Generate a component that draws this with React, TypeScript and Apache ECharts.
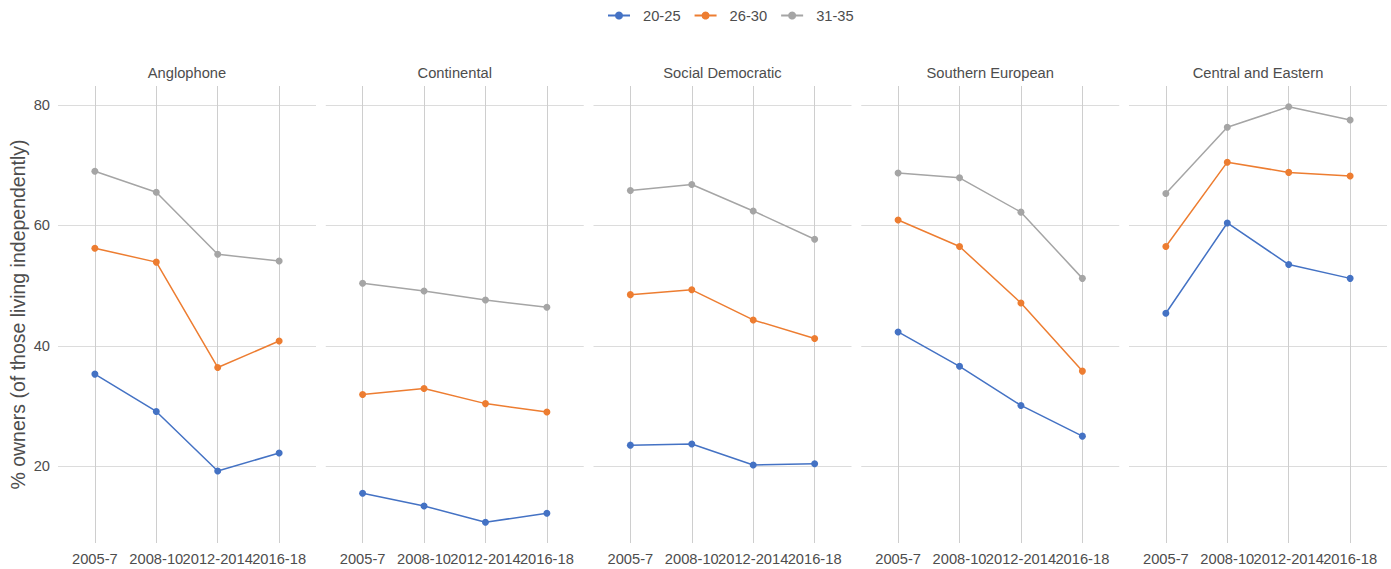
import React, { useEffect, useRef } from "react";
import * as echarts from "echarts";

const CATEGORIES = ["2005-7", "2008-10", "2012-2014", "2016-18"];
const PANELS = ["Anglophone", "Continental", "Social Democratic", "Southern European", "Central and Eastern"];
const SERIES_NAMES = ["20-25", "26-30", "31-35"];
const Y_TITLE = "% owners (of those living independently)";

const ANGLOPHONE_20_25 = [35.3, 29.1, 19.2, 22.2];
const ANGLOPHONE_26_30 = [56.2, 53.9, 36.4, 40.8];
const ANGLOPHONE_31_35 = [69.0, 65.5, 55.2, 54.1];

const CONTINENTAL_20_25 = [15.5, 13.4, 10.7, 12.2];
const CONTINENTAL_26_30 = [31.9, 32.9, 30.4, 29.0];
const CONTINENTAL_31_35 = [50.4, 49.1, 47.6, 46.4];

const SOCIALDEM_20_25 = [23.5, 23.7, 20.2, 20.4];
const SOCIALDEM_26_30 = [48.5, 49.3, 44.3, 41.2];
const SOCIALDEM_31_35 = [65.8, 66.8, 62.4, 57.7];

const SOUTHERN_20_25 = [42.3, 36.6, 30.1, 25.0];
const SOUTHERN_26_30 = [60.9, 56.5, 47.1, 35.8];
const SOUTHERN_31_35 = [68.7, 67.9, 62.2, 51.2];

const CEE_20_25 = [45.4, 60.4, 53.5, 51.2];
const CEE_26_30 = [56.5, 70.5, 68.8, 68.2];
const CEE_31_35 = [65.3, 76.3, 79.7, 77.5];

const PANEL_DATA = [
  [ANGLOPHONE_20_25, ANGLOPHONE_26_30, ANGLOPHONE_31_35],
  [CONTINENTAL_20_25, CONTINENTAL_26_30, CONTINENTAL_31_35],
  [SOCIALDEM_20_25, SOCIALDEM_26_30, SOCIALDEM_31_35],
  [SOUTHERN_20_25, SOUTHERN_26_30, SOUTHERN_31_35],
  [CEE_20_25, CEE_26_30, CEE_31_35],
];

const COLORS = ["#4472C4", "#ED7D31", "#A5A5A5"];
const FONT = "'Liberation Sans', Arial, sans-serif";
const TEXT = "#4d4d4d";
const FS = 14.7;
const Y_MIN = 7.25;
const Y_MAX = 83.15;

export default function App() {
  const ref = useRef<HTMLDivElement>(null);

  useEffect(() => {
    if (!ref.current) return;
    const chart = echarts.init(ref.current, undefined, { renderer: "svg" });

    const PANEL_LEFT0 = 58;
    const PANEL_STEP = 267.75;
    const PANEL_W = 258;
    const TOP = 86;
    const HEIGHT = 457;
    const inset = (0.6 * PANEL_W) / 4.2;

    const grid: any[] = [];
    const xAxis: any[] = [];
    const yAxis: any[] = [];
    const series: any[] = [];
    const graphic: any[] = [];

    PANELS.forEach((p, i) => {
      const left = PANEL_LEFT0 + i * PANEL_STEP;
      grid.push({ left, top: TOP, width: PANEL_W, height: HEIGHT, containLabel: false });
      grid.push({ left: left + inset, top: TOP, width: PANEL_W - 2 * inset, height: HEIGHT, containLabel: false });

      xAxis.push({ type: "value", gridIndex: 2 * i, min: 0, max: 1, show: false });
      xAxis.push({
        type: "category",
        gridIndex: 2 * i + 1,
        data: CATEGORIES,
        boundaryGap: false,
        axisLine: { show: false },
        axisTick: { show: false },
        axisLabel: { interval: 0, fontSize: FS, color: TEXT, fontFamily: FONT, margin: 8 },
        splitLine: { show: true, interval: 0, lineStyle: { color: "#cecece", width: 1 } },
      });

      yAxis.push({
        type: "value",
        gridIndex: 2 * i,
        min: Y_MIN,
        max: Y_MAX,
        splitNumber: 4,
        axisLine: { show: false },
        axisTick: { show: false },
        axisLabel: {
          show: i === 0,
          showMinLabel: false,
          showMaxLabel: false,
          fontSize: FS,
          color: TEXT,
          fontFamily: FONT,
          margin: 8,
          formatter: (v: number) => (Math.abs(v % 20) < 1e-6 ? String(v) : ""),
        },
        splitLine: { show: true, showMinLine: false, showMaxLine: false, lineStyle: { color: "#dcdcdc", width: 1 } },
        name: i === 0 ? Y_TITLE : "",
        nameLocation: "middle",
        nameGap: 30,
        nameTextStyle: { fontSize: 19.5, color: TEXT, fontFamily: FONT },
      });
      yAxis.push({ type: "value", gridIndex: 2 * i + 1, min: Y_MIN, max: Y_MAX, show: false, splitLine: { show: false } });

      PANEL_DATA[i].forEach((vals, k) => {
        series.push({
          type: "line",
          name: SERIES_NAMES[k],
          xAxisIndex: 2 * i + 1,
          yAxisIndex: 2 * i + 1,
          data: vals,
          symbol: "circle",
          symbolSize: 7,
          color: COLORS[k],
          lineStyle: { width: 1.5, color: COLORS[k] },
          itemStyle: { color: COLORS[k] },
          z: 5 - k,
        });
      });

      graphic.push({
        type: "text",
        x: left + PANEL_W / 2,
        y: 73,
        style: {
          text: p,
          fontSize: FS,
          fill: TEXT,
          fontFamily: FONT,
          textAlign: "center",
          textVerticalAlign: "middle",
        },
      });
    });

    chart.setOption({
      animation: false,
      backgroundColor: "#ffffff",
      textStyle: { fontFamily: FONT },
      legend: {
        data: SERIES_NAMES,
        left: 607,
        top: 8,
        padding: 0,
        itemWidth: 22,
        itemHeight: 10,
        itemGap: 13,
        textStyle: { fontSize: FS, color: TEXT, fontFamily: FONT, padding: [0, 0, 0, 8] },
      },
      grid,
      xAxis,
      yAxis,
      series,
      graphic,
    });

    return () => chart.dispose();
  }, []);

  return <div ref={ref} style={{ position: "fixed", left: 0, top: 0, width: 1391, height: 569 }} />;
}
